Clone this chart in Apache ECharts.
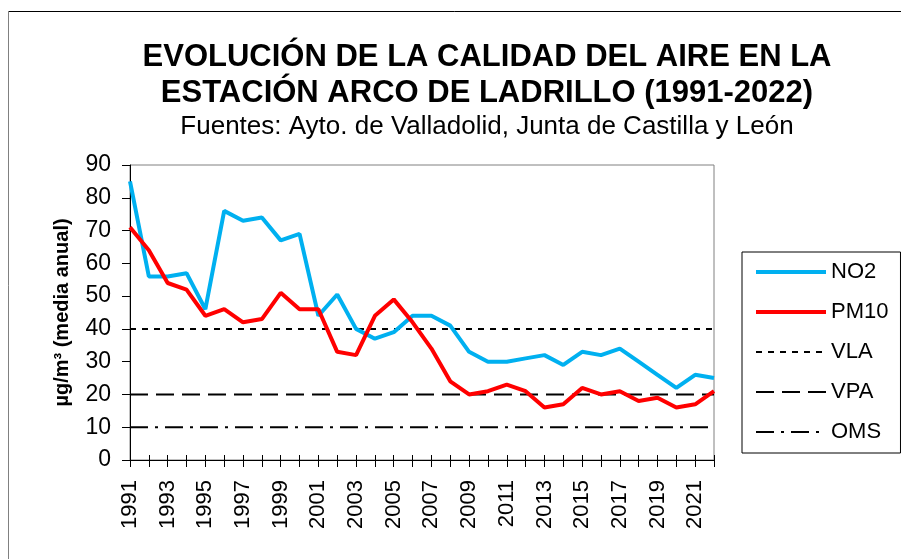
<!DOCTYPE html>
<html><head><meta charset="utf-8">
<script src="https://cdn.jsdelivr.net/npm/echarts@6/dist/echarts.min.js"></script>
<style>html,body{margin:0;padding:0;background:#fff}#c{width:901px;height:559px}</style>
</head><body><div id="c"></div>
<script>
const years = ['1991','1992','1993','1994','1995','1996','1997','1998','1999','2000','2001','2002','2003','2004','2005','2006','2007','2008','2009','2010','2011','2012','2013','2014','2015','2016','2017','2018','2019','2020','2021','2022'];
const no2  = [85,56,56,57,46,76,73,74,67,69,44,50.5,40,37,39,44,44,41,33,30,30,31,32,29,33,32,34,30,26,22,26,25];
const pm10 = [71,64,54,52,44,46,42,43,51,46,46,33,32,44,49,42,34,24,20,21,23,21,16,17,22,20,21,18,19,16,17,21];
const vla  = [40,40,40,40,40,40,40,40,40,40,40,40,40,40,40,40,40,40,40,40,40,40,40,40,40,40,40,40,40,40,40,40];
const vpa  = [20,20,20,20,20,20,20,20,20,20,20,20,20,20,20,20,20,20,20,20,20,20,20,20,20,20,20,20,20,20,20,20];
const oms  = [10,10,10,10,10,10,10,10,10,10,10,10,10,10,10,10,10,10,10,10,10,10,10,10,10,10,10,10,10,10,10,10];
const yTicks = {min:0, max:90, interval:10};
const titleLines = 'EVOLUCIÓN DE LA CALIDAD DEL AIRE EN LA\nESTACIÓN ARCO DE LADRILLO (1991-2022)';
const subtitle = 'Fuentes: Ayto. de Valladolid, Junta de Castilla y León';
const yName = 'µg/m³ (media anual)';

const FF = '"Liberation Sans", Arial, sans-serif';
const chart = echarts.init(document.getElementById('c'), null, {renderer:'canvas'});
const lineSeries = (name, data, color, width, type) => ({
  name, type:'line', data, symbol:'none', showSymbol:false, animation:false,
  lineStyle:{color, width, type}, itemStyle:{color}, z: width>2?3:2
});
chart.setOption({
  animation:false,
  backgroundColor:'#fff',
  textStyle:{fontFamily:FF},
  title:[
    {text:titleLines, left:487, top:39, textAlign:'center', padding:0,
     textStyle:{fontFamily:FF, fontSize:31, fontWeight:'bold', color:'#000', lineHeight:36}},
    {text:subtitle, left:487, top:112, textAlign:'center', padding:0,
     textStyle:{fontFamily:FF, fontSize:26, fontWeight:'normal', color:'#000', lineHeight:30}}
  ],
  graphic:[
    {type:'line', shape:{x1:8.5,y1:11.5,x2:901,y2:11.5}, style:{stroke:'#000', lineWidth:1}},
    {type:'line', shape:{x1:8.5,y1:11.5,x2:8.5,y2:559}, style:{stroke:'#808080', lineWidth:1}}
  ],
  legend:{
    orient:'vertical', left:742, top:252, padding:[9,12,10,12],
    borderColor:'#000', borderWidth:1, itemWidth:70, itemHeight:14, itemGap:18,
    itemStyle:{opacity:0},
    lineStyle:{width:'inherit', type:'inherit', opacity:1},
    textStyle:{fontFamily:FF, fontSize:22, color:'#000', lineHeight:22},
    data:['NO2','PM10','VLA','VPA','OMS']
  },
  grid:{left:130, right:187, top:165, bottom:99, show:true, borderColor:'#808080', borderWidth:1, backgroundColor:'transparent'},
  xAxis:[{
    type:'category', data:years, boundaryGap:false,
    axisLine:{lineStyle:{color:'#000', width:1}},
    axisTick:{show:true, interval:0, length:7, lineStyle:{color:'#000'}},
    axisLabel:{interval:1, rotate:90, margin:20, fontSize:22, color:'#000', fontFamily:FF},
    splitLine:{show:false}
  },{
    type:'category', data:years, boundaryGap:false, position:'bottom',
    axisLine:{show:false},
    axisTick:{show:true, inside:true, interval:0, length:5, lineStyle:{color:'#000'}},
    axisLabel:{show:false}, splitLine:{show:false}
  }],
  yAxis:{
    type:'value', min:yTicks.min, max:yTicks.max, interval:yTicks.interval,
    name:yName, nameLocation:'middle', nameGap:58,
    nameTextStyle:{fontFamily:FF, fontSize:20, fontWeight:'bold', color:'#000'},
    axisLine:{show:true, lineStyle:{color:'#000', width:1}},
    axisTick:{show:true, length:8, lineStyle:{color:'#000'}},
    axisLabel:{fontSize:23, color:'#000', margin:19, fontFamily:FF},
    splitLine:{show:false}
  },
  series:[
    lineSeries('NO2', no2, '#00B0F0', 4, 'solid'),
    lineSeries('PM10', pm10, '#FF0000', 4, 'solid'),
    lineSeries('VLA', vla, '#000', 2, [6,6]),
    lineSeries('VPA', vpa, '#000', 2, [18,8]),
    lineSeries('OMS', oms, '#000', 2, [18,7,3,7])
  ]
});
</script></body></html>
